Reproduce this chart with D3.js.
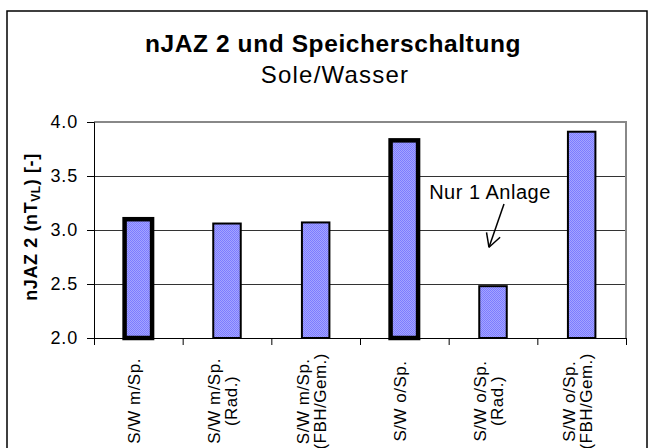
<!DOCTYPE html>
<html>
<head>
<meta charset="utf-8">
<script src="https://cdn.jsdelivr.net/npm/d3@7"></script>
<style>
  body { margin: 0; background: #fff; }
  svg { display: block; }
  text { font-family: Arial, "Liberation Sans", sans-serif; fill: #000; }
</style>
</head>
<body>
<div id="chart"></div>
<script>
// data
var categories = ["S/W m/Sp.", "S/W m/Sp.\n(Rad.)", "S/W m/Sp.\n(FBH/Gem.)",
                  "S/W o/Sp.", "S/W o/Sp.\n(Rad.)", "S/W o/Sp.\n(FBH/Gem.)"]
var values = [3.10, 3.06, 3.07, 3.83, 2.48, 3.91]
var heavyBorder = [true, false, false, true, false, false]
var yTicks = [2.0, 2.5, 3.0, 3.5, 4.0]

var width = 653, height = 448
var plot = { left: 94, right: 626, top: 122, bottom: 338 }

var svg = d3.select("#chart").append("svg")
	.attr("width", width)
	.attr("height", height)

// dithered blue fill like the old excel pattern
var defs = svg.append("defs")
var pat = defs.append("pattern")
	.attr("id", "dither")
	.attr("patternUnits", "userSpaceOnUse")
	.attr("width", 2).attr("height", 2)
pat.append("rect").attr("width", 2).attr("height", 2).attr("fill", "#a4a4ff")
pat.append("rect").attr("x", 0).attr("y", 0).attr("width", 1).attr("height", 1).attr("fill", "#7c7cff")
pat.append("rect").attr("x", 1).attr("y", 1).attr("width", 1).attr("height", 1).attr("fill", "#7c7cff")

// outer chart frame (runs off the bottom of the picture)
svg.append("rect")
	.attr("x", 7).attr("y", 11)
	.attr("width", 640).attr("height", 470)
	.attr("fill", "#fff")
	.attr("stroke", "#000")
	.attr("stroke-width", 1.5)

var x = d3.scaleBand()
	.domain(d3.range(categories.length))
	.range([plot.left, plot.right])
var y = d3.scaleLinear()
	.domain([2, 4])
	.range([plot.bottom, plot.top])

// titles
svg.append("text")
	.attr("x", 333).attr("y", 52)
	.attr("text-anchor", "middle")
	.style("font-size", "24.5px")
	.style("font-weight", "bold")
	.style("letter-spacing", "0.6px")
	.text("nJAZ 2 und Speicherschaltung")
svg.append("text")
	.attr("x", 335).attr("y", 83)
	.attr("text-anchor", "middle")
	.style("font-size", "24px")
	.style("letter-spacing", "1.2px")
	.text("Sole/Wasser")

// gridlines
svg.append("g").selectAll("line")
	.data(yTicks.filter(function(d) { return d > 2 && d < 4 }))
	.enter().append("line")
		.attr("x1", plot.left).attr("x2", plot.right)
		.attr("y1", function(d) { return Math.round(y(d)) + 0.5 })
		.attr("y2", function(d) { return Math.round(y(d)) + 0.5 })
		.style("stroke", "#333")
		.style("stroke-width", 1)

// plot area border (grey top + right)
svg.append("path")
	.attr("d", "M" + plot.left + "," + plot.top + "H" + plot.right + "V" + plot.bottom)
	.attr("fill", "none")
	.style("stroke", "#888")
	.style("stroke-width", 2)

// bars
var barW = x.bandwidth() * 0.31
svg.append("g").selectAll("rect")
	.data(values)
	.enter().append("rect")
		.attr("x", function(d, i) { return x(i) + (x.bandwidth() - barW) / 2 })
		.attr("y", function(d) { return y(d) })
		.attr("width", barW)
		.attr("height", function(d) { return y(2) - y(d) })
		.attr("fill", "url(#dither)")
		.attr("stroke", "#000")
		.attr("stroke-width", function(d, i) { return heavyBorder[i] ? 4.5 : 2 })

// y axis
var yAxis = svg.append("g")
	.attr("transform", "translate(" + plot.left + ",0)")
	.call(d3.axisLeft(y).tickValues(yTicks).tickSize(7).tickPadding(9).tickFormat(d3.format(".1f")))
yAxis.selectAll("path, line").style("stroke", "#000")
yAxis.selectAll("text")
	.style("font-size", "18px")
	.style("font-family", "Arial, 'Liberation Sans', sans-serif")
	.style("letter-spacing", "0.8px")
	.attr("fill", "#000")

// x axis: ticks sit between the categories
var xEdges = d3.scaleLinear().domain([0, categories.length]).range([plot.left, plot.right])
var xAxis = svg.append("g")
	.attr("transform", "translate(0," + plot.bottom + ")")
	.call(d3.axisBottom(xEdges).ticks(categories.length).tickSize(7).tickFormat(""))
xAxis.selectAll("path, line").style("stroke", "#000")

// category labels, rotated, lines centred on each other
var lineH = 17
categories.forEach(function(name, i) {
	var lines = name.split("\n")
	var cx = x(i) + x.bandwidth() / 2
	var g = svg.append("g")
	var t = g.append("text")
		.attr("text-anchor", "middle")
		.style("font-size", "17px")
		.style("letter-spacing", "0.5px")
	lines.forEach(function(s, k) {
		t.append("tspan")
			.attr("x", 0)
			.attr("y", (k - (lines.length - 1) / 2) * lineH)
			.attr("dy", "0.1em")
			.text(s)
	})
	var longest = d3.max(t.selectAll("tspan").nodes(), function(n) { return n.getComputedTextLength() })
	var cy = Math.max(401, 353 + longest / 2)
	g.attr("transform", "translate(" + cx + "," + cy + ") rotate(-90)")
})

// y axis title
var yl = svg.append("text")
	.attr("transform", "translate(37,227) rotate(-90)")
	.attr("text-anchor", "middle")
	.style("font-size", "18px")
	.style("font-weight", "bold")
	.style("letter-spacing", "0.6px")
yl.append("tspan").text("nJAZ 2 (nT")
yl.append("tspan").style("font-size", "12px").attr("dy", 3).text("VL")
yl.append("tspan").attr("dy", -3).text(") [-]")

// note on the single plant
var noteCat = 4
var noteX = x(noteCat) + x.bandwidth() / 2
svg.append("text")
	.attr("x", noteX - 3).attr("y", y(3.29))
	.attr("text-anchor", "middle")
	.style("font-size", "20px")
	.style("letter-spacing", "0.5px")
	.text("Nur 1 Anlage")

var a0 = [noteX + 11, y(3.24)], a1 = [noteX - 4, y(2.84)]
var ang = Math.atan2(a0[1] - a1[1], a0[0] - a1[0])
var arrow = svg.append("g").style("stroke", "#000").style("stroke-width", 1.5).style("fill", "none")
arrow.append("line").attr("x1", a0[0]).attr("y1", a0[1]).attr("x2", a1[0]).attr("y2", a1[1])
;[-0.5, 0.5].forEach(function(da) {
	arrow.append("line")
		.attr("x1", a1[0]).attr("y1", a1[1])
		.attr("x2", a1[0] + 15 * Math.cos(ang + da))
		.attr("y2", a1[1] + 15 * Math.sin(ang + da))
})
</script>
</body>
</html>
